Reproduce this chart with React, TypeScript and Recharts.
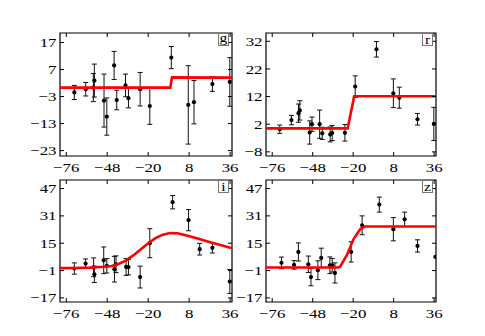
import { ComposedChart, Scatter, ErrorBar, XAxis, YAxis, ReferenceArea } from "recharts"

const epochTicks = [-76, -48, -20, 8, 36]
const epochDomain: [number, number] = [-80.3, 37.3]

// g band
const gEpoch = [-70.5, -62.7, -57.5, -56.8, -50.2, -48.3, -43.3, -41.5, -35.5, -33.5, -25.5, -18.9, -4.2, 7.4, 11.3, 23.9, 35.8]
const gFlux = [-1.5, -0.3, 0.3, 2.9, -4.5, -10.4, 8.5, -4.3, 1.1, -3.6, -0.3, -6.5, 11.4, -6.1, -5.1, 1.6, 2.4]
const gErr = [2.6, 2.5, 5.2, 6.1, 9.8, 6.9, 5.2, 3.6, 4.2, 3.6, 6.2, 6.8, 4.1, 14.5, 8, 2.7, 9]
const gFitEpoch = [-80.3, -4.9, -3.7, 37.3]
const gFitFlux = [0.3, 0.3, 4.1, 4.0]
const gTicks = [-23, -13, -3, 7, 17]

// r band
const rEpoch = [-70.8, -62.7, -57.8, -56.9, -50.1, -48.5, -43.2, -41.4, -35.9, -34.5, -25.7, -18.6, -3.9, 7.8, 11.9, 24.5, 35.8]
const rFlux = [0.2, 3.5, 6.0, 7.0, -1.0, 2.0, 2.0, -1.3, -1.7, -1.2, -1.1, 15.6, 29.1, 13.2, 11.6, 3.8, 2.1]
const rErr = [1.5, 1.7, 3.3, 3.5, 4.2, 2.6, 5.1, 2.2, 2.7, 2.7, 3.0, 3.9, 2.8, 5.2, 3.8, 2.1, 6]
const rFitEpoch = [-80.3, -23.8, -19.3, 37.3]
const rFitFlux = [0.5, 0.5, 12.1, 12.1]
const rTicks = [-8, 2, 12, 22, 32]

// i band
const iEpoch = [-70.5, -62.8, -57.3, -56.8, -50.4, -48.3, -43.1, -42.0, -35.1, -33.5, -25.5, -18.9, -3.3, 7.6, 15.2, 23.9, 35.8]
const iFlux = [0.2, 3.1, 0.9, -3.2, 5.0, 1.8, -0.2, 2.7, 1.1, 1.0, -4.8, 15, 39, 28.5, 11.5, 12.3, -7.4]
const iErr = [3.3, 2.7, 5.5, 4.8, 7.8, 4.2, 7.5, 4.9, 4.9, 4.5, 6.4, 8.5, 3.9, 6.2, 3.4, 3, 7]
const iFitEpoch = [-80.3, -70, -60, -50, -45, -40, -35, -30, -25, -20, -15, -10, -5, 0, 5, 10, 15, 20, 25, 30, 37.3]
const iFitFlux = [0.4, 0.5, 0.7, 1.2, 1.7, 3.0, 5.0, 8.0, 11.5, 15.0, 18.0, 20.0, 21.0, 20.8, 19.8, 18.7, 17.5, 16.2, 15.0, 13.8, 12.0]
const iTicks = [-17, -1, 15, 31, 47]

// z band
const zEpoch = [-69.6, -60.9, -57.9, -51.0, -49.2, -44.4, -42.1, -36.1, -34.5, -32.6, -21.4, -13.8, -1.9, 7.8, 15.6, 24.5, 36.9]
const zFlux = [3.5, 2.3, 9.9, 2.7, -4.8, -0.8, 6.4, 2.1, 2.1, -2.4, 9.9, 25.5, 37.6, 23.2, 29.0, 13.4, 7]
const zErr = [3.4, 2.5, 5.3, 4.8, 5.1, 5.5, 5.7, 4.9, 4, 5.9, 5.9, 5.5, 4.4, 6.8, 4.2, 3.6, 0]
const zFitEpoch = [-80.3, -30.5, -29, -24.4, -19.8, -15.2, -12.4, -11.5, 37.3]
const zFitFlux = [0.75, 0.75, 1.3, 8.0, 17.3, 23.2, 24.6, 24.8, 24.8]
const zTicks = [-17, -1, 15, 31, 47]

const FONT = "'Liberation Serif', 'DejaVu Serif', serif"
const fmt = (v: number) => String(v).replace("-", "\u2212")

const Dot = (p: any) => <circle cx={p.cx} cy={p.cy} r={2.1} fill="#000" />
const NoDot = () => <g />

type PanelProps = {
  label: string
  epoch: number[]
  flux: number[]
  err: number[]
  fitEpoch: number[]
  fitFlux: number[]
  yTicks: number[]
  yDomain: [number, number]
  left: number
  top: number
  w: number
  h: number
}

function Panel({ label, epoch, flux, err, fitEpoch, fitFlux, yTicks, yDomain, left, top, w, h }: PanelProps) {
  const rows = epoch.map((x, i) => ({ x, y: flux[i], err: err[i] }))
  const fit = fitEpoch.map((x, i) => ({ x, y: fitFlux[i] }))

  const xTick = (props: any) => {
    const { x, y, payload } = props
    return (
      <g>
        <line x1={x} x2={x} y1={y} y2={y - 4} stroke="#000" />
        <line x1={x} x2={x} y1={y - h} y2={y - h + 4} stroke="#000" />
        <text
          transform={`translate(${x},${y + 16}) scale(1.25,1)`}
          textAnchor="middle"
          fontSize={13.5}
          fontFamily={FONT}
          fill="#000"
        >
          {fmt(payload.value)}
        </text>
      </g>
    )
  }

  const yTick = (props: any) => {
    const { x, y, payload } = props
    return (
      <g>
        <line x1={x} x2={x + 4} y1={y} y2={y} stroke="#000" />
        <line x1={x + w} x2={x + w - 4} y1={y} y2={y} stroke="#000" />
        <text
          transform={`translate(${x - 3.5},${y}) scale(1.25,1)`}
          textAnchor="end"
          dy="0.34em"
          fontSize={13.5}
          fontFamily={FONT}
          fill="#000"
        >
          {fmt(payload.value)}
        </text>
      </g>
    )
  }

  // letters with a descender sit higher in the box
  const baseline = label === "g" ? 8.5 : 10.5
  const pad = 8

  return (
    <div style={{ position: "absolute", left: left - 50, top: top - 10 }}>
      <ComposedChart width={50 + w + 10} height={10 + h + 30} margin={{ top: 10, right: 10, left: 0, bottom: 0 }}>
        <XAxis
          dataKey="x"
          type="number"
          domain={epochDomain}
          ticks={epochTicks}
          interval={0}
          allowDataOverflow
          height={30}
          tickSize={0}
          tickMargin={0}
          tickLine={false}
          axisLine={false}
          tick={xTick}
        />
        <YAxis
          dataKey="y"
          type="number"
          domain={yDomain}
          ticks={yTicks}
          interval={0}
          allowDataOverflow
          width={50}
          tickSize={0}
          tickMargin={0}
          tickLine={false}
          axisLine={false}
          tick={yTick}
        />
        <Scatter data={rows} fill="#000" shape={Dot} isAnimationActive={false}>
          <ErrorBar dataKey="err" direction="y" width={2.5} stroke="#111" strokeWidth={1} />
        </Scatter>
        <Scatter
          data={fit}
          fill="#ff0000"
          line={{ stroke: "#ff0000", strokeWidth: 2.6 }}
          lineType="joint"
          shape={NoDot}
          isAnimationActive={false}
        />
        <ReferenceArea
          x1={epochDomain[0]}
          x2={epochDomain[1]}
          y1={yDomain[0]}
          y2={yDomain[1]}
          fill="none"
          fillOpacity={0}
          stroke="#000"
          strokeWidth={1.2}
          strokeOpacity={1}
        />
      </ComposedChart>
      <svg
        width={12 + 2 * pad}
        height={14 + 2 * pad}
        style={{ position: "absolute", left: 50 + w - 14 - pad, top: 10 - pad, overflow: "visible" }}
      >
        <rect x={pad + 0.5} y={pad + 0.5} width={10} height={12} fill="#fff" stroke="#777" strokeWidth={1} />
        <text
          transform={`translate(${pad + 5.5},${pad + baseline}) scale(1.2,1)`}
          textAnchor="middle"
          fontSize={13}
          fontFamily={FONT}
          fill="#000"
        >
          {label}
        </text>
      </svg>
    </div>
  )
}

export default function App() {
  return (
    <div style={{ position: "absolute", left: 0, top: 0, width: 485, height: 336, background: "#fff" }}>
      <Panel label="g" epoch={gEpoch} flux={gFlux} err={gErr} fitEpoch={gFitEpoch} fitFlux={gFitFlux}
        yTicks={gTicks} yDomain={[-25, 20.5]} left={60} top={33} w={172} h={123} />
      <Panel label="r" epoch={rEpoch} flux={rFlux} err={rErr} fitEpoch={rFitEpoch} fitFlux={rFitFlux}
        yTicks={rTicks} yDomain={[-9.5, 35]} left={266} top={33} w={170} h={123} />
      <Panel label="i" epoch={iEpoch} flux={iFlux} err={iErr} fitEpoch={iFitEpoch} fitFlux={iFitFlux}
        yTicks={iTicks} yDomain={[-19.4, 52]} left={60} top={180} w={172} h={122} />
      <Panel label="z" epoch={zEpoch} flux={zFlux} err={zErr} fitEpoch={zFitEpoch} fitFlux={zFitFlux}
        yTicks={zTicks} yDomain={[-19.4, 52]} left={266} top={180} w={170} h={122} />
    </div>
  )
}
